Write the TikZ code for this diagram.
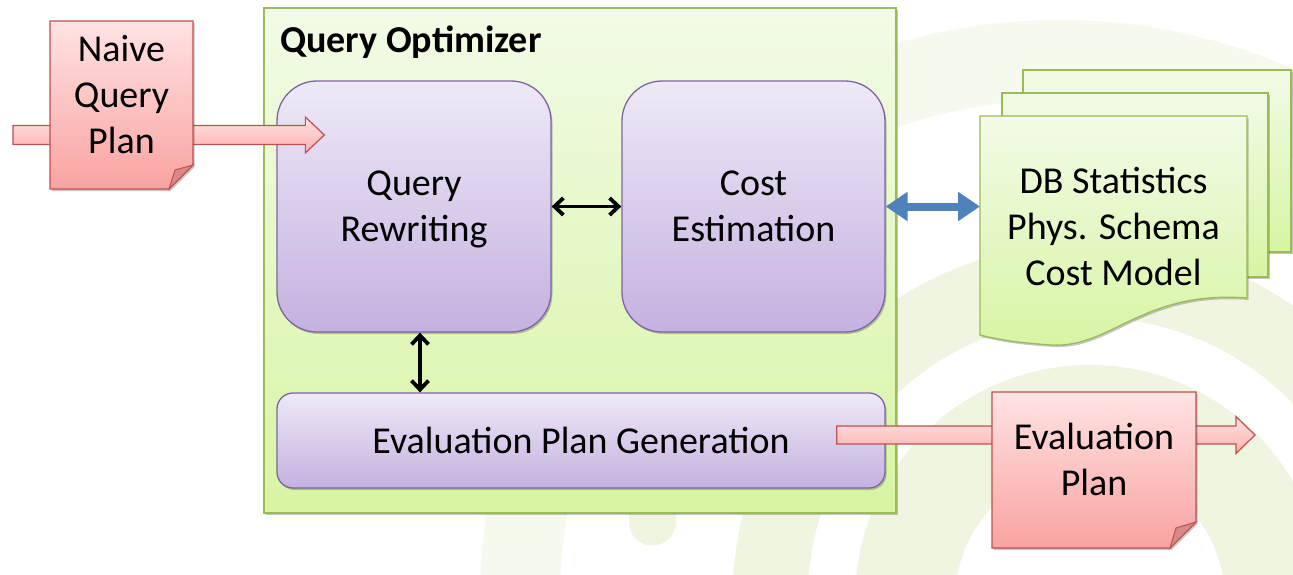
\documentclass[tikz,border=0pt]{standalone}
\usepackage{fontspec}
\setmainfont{Carlito}
\usetikzlibrary{arrows.meta,calc,shadows}

\definecolor{optTop}{HTML}{F2FBE7}
\definecolor{optBot}{HTML}{D7F5A3}
\definecolor{optLine}{HTML}{9BBB59}
\definecolor{procTop}{HTML}{EEE9F7}
\definecolor{procBot}{HTML}{C5B1E0}
\definecolor{procLine}{HTML}{8064A2}
\definecolor{pinkTop}{HTML}{FFE3E3}
\definecolor{pinkBot}{HTML}{F9A3A1}
\definecolor{pinkLine}{HTML}{C0504D}
\definecolor{pinkFold}{HTML}{D98A88}
\definecolor{blueArrow}{HTML}{4F81BD}
\definecolor{wmark}{HTML}{EFF5E1}
\definecolor{wmarkfaint}{HTML}{F5F9EE}

\tikzset{
  bigtext/.style={font=\fontsize{38}{46}\selectfont, align=center, text=black, text depth=0pt},
  softshadow/.style={drop shadow={shadow xshift=1.5pt, shadow yshift=-2pt, opacity=0.22, fill=black}},
  optbox/.style={draw=optLine, line width=1.3pt, top color=optTop, bottom color=optBot, softshadow},
  procbox/.style={draw=procLine, line width=1.3pt, top color=procTop, bottom color=procBot, softshadow, bigtext},
  pinkdoc/.style={draw=pinkLine, line width=1.3pt, top color=pinkTop, bottom color=pinkBot, softshadow},
  greendoc/.style={draw=optLine, line width=1.3pt, top color=optTop, bottom color=optBot, softshadow},
  blockarrow/.style={draw=pinkLine, line width=1.2pt, top color=pinkTop, bottom color=pinkBot!85!white},
  placeholder/.style={inner sep=0pt, outer sep=0pt},
  twohead/.style={{Straight Barb[length=9pt,width=17pt]}-{Straight Barb[length=9pt,width=17pt]}, line width=3.8pt, black},
  bluehead/.style={{Triangle[length=22pt,width=28pt]}-{Triangle[length=22pt,width=28pt]}, line width=8pt, blueArrow},
}

\begin{document}
\begin{tikzpicture}[x=1pt,y=-1pt]
  % canvas
  \fill[white] (0,0) rectangle (1293,574);
  \useasboundingbox (0,0) rectangle (1293,574);

  % faint logo rings in the background
  \begin{scope}
    \clip (0,0) rectangle (1293,574);
    \draw[wmarkfaint, line width=80pt] (1060,600) ++(180:540) arc[start angle=180, end angle=330, radius=540];
    \draw[wmark, line width=75pt] (1090,600) ++(180:320) arc[start angle=180, end angle=345, radius=320];
    \draw[wmark, line width=100pt] (1090,600) ++(180:185) arc[start angle=180, end angle=360, radius=185];
    \draw[wmark, line width=47pt, line cap=round] (652,505) -- (652,522);
  \end{scope}

  % optimizer frame
  \node[optbox, placeholder, minimum width=632pt, minimum height=505pt] (opt) at (580,260.5) {};
  \node[anchor=west, font=\fontsize{38}{46}\selectfont\bfseries, inner sep=0pt] (title) at (280,42) {Query Optimizer};

  % components
  \node[procbox, rounded corners=40pt, minimum width=274pt, minimum height=251pt, inner sep=0pt] (rewrite) at (414,206.5) {Query\\Rewriting};
  \node[procbox, rounded corners=40pt, minimum width=263pt, minimum height=251pt, inner sep=0pt] (cost) at (753.5,206.5) {Cost\\Estimation};
  \node[procbox, rounded corners=16pt, minimum width=608pt, minimum height=95pt, inner sep=0pt] (epg) at (581,440.5) {Evaluation Plan Generation};

  \draw[twohead] (rewrite.east) -- (cost.west);
  \draw[twohead] ([xshift=6pt]rewrite.south) -- ([xshift=6pt]rewrite.south |- epg.north);

  % statistics documents
  \node[placeholder, minimum width=268pt, minimum height=182pt] (db3) at (1157,161) {};
  \node[placeholder, minimum width=266pt, minimum height=184pt] (db2) at (1135,185) {};
  \node[placeholder, minimum width=267pt, minimum height=218pt] (db) at (1113.5,225) {};
  \path[greendoc] (db3.north west) rectangle (db3.south east);
  \path[greendoc] (db2.north west) rectangle (db2.south east);
  \path[greendoc] (db.north west) -- (db.north east) -- ([yshift=36pt]db.south east)
    .. controls ($(db.south east)+(-105,-44)$) and ($(db.south east)+(-135,14)$) .. ($(db.south west)+(72,11)$)
    .. controls ($(db.south west)+(40,9)$) and ($(db.south west)+(20,6)$) .. ($(db.south west)+(0,1)$)
    -- cycle;
  \node[bigtext] (dbtxt) at (1113.5,226) {DB Statistics\\Phys. Schema\\Cost Model};

  \draw[bluehead] (cost.east) -- (cost.east -| db.west);

  % incoming plan
  \coordinate (inS) at (13,135);
  \coordinate (inE) at ($(rewrite.west |- inS)+(48,0)$);
  \path[blockarrow] ($(inS)+(0,-9.5)$) -- ($(inE)+(-19,-9.5)$) -- ($(inE)+(-19,-18)$) -- (inE)
    -- ($(inE)+(-19,18)$) -- ($(inE)+(-19,9.5)$) -- ($(inS)+(0,9.5)$) -- cycle;
  \node[placeholder, minimum width=143pt, minimum height=168pt] (naive) at (121.5,105) {};
  \path[pinkdoc] (naive.north west) -- (naive.north east) -- ([yshift=24pt]naive.south east)
    -- ([xshift=-24pt]naive.south east) -- (naive.south west) -- cycle;
  \path[fill=pinkFold, draw=pinkLine, line width=1pt] ([yshift=24pt]naive.south east)
    -- ($(naive.south east)+(-18,-19)$) -- ([xshift=-24pt]naive.south east) -- cycle;
  \node[bigtext] (naivetxt) at ($(naive.center)+(0,-11)$) {Naive\\Query\\Plan};

  % outgoing plan
  \coordinate (outE) at (1255,435);
  \coordinate (outS) at ($(epg.east |- outE)+(-49,0)$);
  \path[blockarrow] ($(outS)+(0,-9)$) -- ($(outE)+(-19,-9)$) -- ($(outE)+(-19,-18.5)$) -- (outE)
    -- ($(outE)+(-19,18.5)$) -- ($(outE)+(-19,9)$) -- ($(outS)+(0,9)$) -- cycle;
  \node[placeholder, minimum width=204pt, minimum height=156pt] (evalp) at (1094,470) {};
  \path[pinkdoc] (evalp.north west) -- (evalp.north east) -- ([yshift=26pt]evalp.south east)
    -- ([xshift=-26pt]evalp.south east) -- (evalp.south west) -- cycle;
  \path[fill=pinkFold, draw=pinkLine, line width=1pt] ([yshift=26pt]evalp.south east)
    -- ($(evalp.south east)+(-20,-20)$) -- ([xshift=-26pt]evalp.south east) -- cycle;
  \node[bigtext] (evaltxt) at ($(evalp.center)+(0,-11)$) {Evaluation\\Plan};
\end{tikzpicture}
\end{document}
